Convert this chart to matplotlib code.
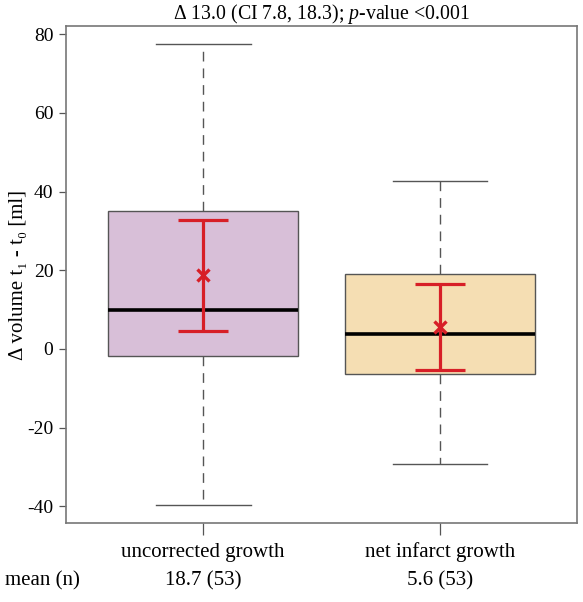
import matplotlib
matplotlib.use("Agg")
import matplotlib.pyplot as plt
import numpy as np

groups = ["uncorrected growth", "net infarct growth"]
q1 = [-1.9, -6.4]
med = [9.8, 3.7]
q3 = [35.0, 19.0]
whislo = [-39.7, -29.3]
whishi = [77.5, 42.6]
means = [18.7, 5.6]
ci_lo = [4.6, -5.3]
ci_hi = [32.8, 16.5]
counts = [53, 53]
fills = ["#D8BFD8", "#F5DEB3"]
yticks = [-40, -20, 0, 20, 40, 60, 80]

plt.rcParams['font.family'] = ['Liberation Serif', 'DejaVu Serif']
plt.rcParams['mathtext.fontset'] = 'custom'
plt.rcParams['mathtext.rm'] = 'Liberation Serif'
plt.rcParams['mathtext.it'] = 'Liberation Serif:italic'

fig = plt.figure(figsize=(5.83, 6.02), dpi=100)
ax = fig.add_axes([0.113, 0.131, 0.877, 0.826])

pos = np.arange(1, len(groups) + 1)
stats = []
for i in range(len(groups)):
    stats.append(dict(med=med[i], q1=q1[i], q3=q3[i], whislo=whislo[i], whishi=whishi[i], fliers=[]))

bp = ax.bxp(stats, positions=pos, widths=0.8, patch_artist=True, showfliers=False,
            boxprops=dict(edgecolor="#555555", linewidth=1.0),
            medianprops=dict(color="black", linewidth=2.6),
            whiskerprops=dict(color="#555555", linewidth=1.0, linestyle=(0, (7, 5))),
            capprops=dict(color="#555555", linewidth=1.0),
            capwidths=0.4)
for patch, c in zip(bp['boxes'], fills):
    patch.set_facecolor(c)

red = "#D71F27"
means_a = np.array(means)
ax.errorbar(pos, means_a, yerr=[means_a - np.array(ci_lo), np.array(ci_hi) - means_a],
            fmt='none', ecolor=red, elinewidth=2.3, capsize=18, capthick=2.3, zorder=5)
ax.plot(pos, means_a, linestyle='none', marker='x', color=red, markersize=8,
        markeredgewidth=2.4, zorder=6)

ax.set_xlim(0.42, 2.58)
ax.set_ylim(-44.3, 82.1)
ax.set_yticks(yticks)
ax.set_yticklabels([str(t) for t in yticks], fontsize=14)
ax.set_xticks(pos)
ax.set_xticklabels([])
ax.tick_params(axis='y', length=5, width=0.9, color="#555555", pad=4)
ax.tick_params(axis='x', length=8.5, width=0.9, color="#555555")
for s in ax.spines.values():
    s.set_color("#777777")
    s.set_linewidth(1.2)

ax.set_ylabel("Δ volume t\u2081 - t\u2080 [ml]", fontsize=15)
ax.yaxis.set_label_coords(-0.075, 0.5)
ax.set_title(r"Δ 13.0 (CI 7.8, 18.3); $\mathit{p}$-value <0.001", fontsize=14.3, pad=4)

for p, g, m, n in zip(pos, groups, means, counts):
    ax.annotate(g, xy=(p, 0), xycoords=('data', 'axes fraction'), xytext=(0, -29),
                textcoords='offset pixels', ha='center', va='center', fontsize=15)
    ax.annotate(f"{m:.1f} ({n})", xy=(p, 0), xycoords=('data', 'axes fraction'), xytext=(0, -58),
                textcoords='offset pixels', ha='center', va='center', fontsize=15)
fig.text(5 / 583, 1 - 581 / 602, "mean (n)", ha='left', va='center', fontsize=15)

fig.savefig("out.png", dpi=100)
